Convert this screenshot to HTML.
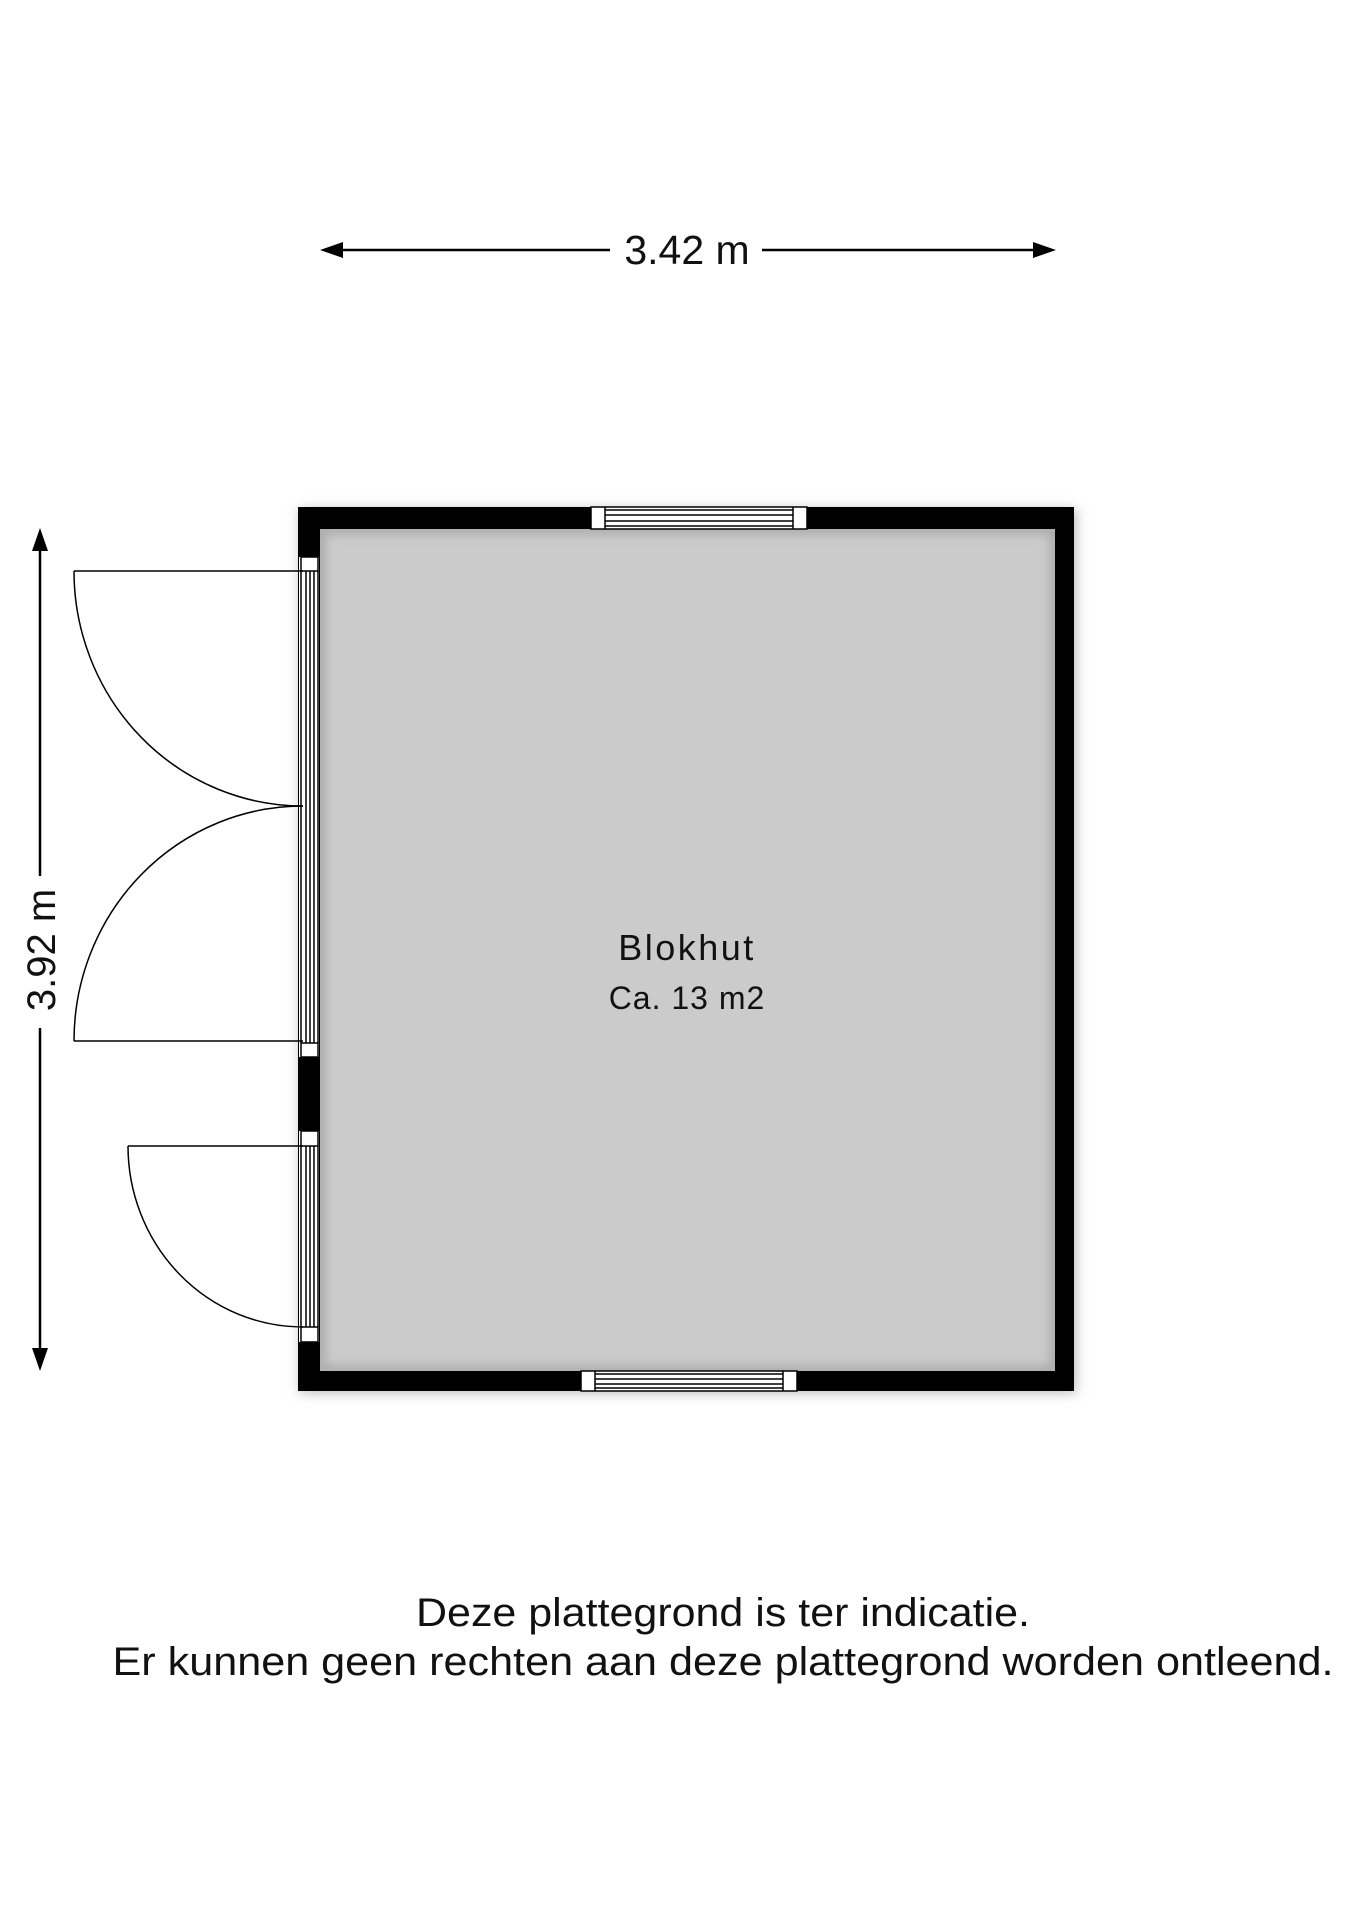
<!DOCTYPE html>
<html><head><meta charset="utf-8"><style>
html,body{margin:0;padding:0;background:#fff;}
svg{display:block;}
text{font-family:"Liberation Sans",Arial,sans-serif;fill:#111;}
</style></head><body>
<svg width="1358" height="1920" viewBox="0 0 1358 1920" xmlns="http://www.w3.org/2000/svg">
<defs>
<filter id="sh" x="-5%" y="-5%" width="110%" height="110%"><feGaussianBlur stdDeviation="6"/></filter>
<filter id="ib" x="-5%" y="-5%" width="110%" height="110%"><feGaussianBlur stdDeviation="5"/></filter>
<clipPath id="room"><rect x="320" y="529" width="735" height="842"/></clipPath>
</defs>
<!-- horizontal dimension -->
<line x1="330" y1="250" x2="610" y2="250" stroke="#000" stroke-width="2.5"/>
<line x1="762" y1="250" x2="1045" y2="250" stroke="#000" stroke-width="2.5"/>
<polygon points="320,250 343,242 343,258" fill="#000"/>
<polygon points="1056,250 1033,242 1033,258" fill="#000"/>
<text x="687" y="264" font-size="41" text-anchor="middle">3.42 m</text>
<!-- vertical dimension -->
<line x1="40" y1="540" x2="40" y2="876" stroke="#000" stroke-width="2.5"/>
<line x1="40" y1="1028" x2="40" y2="1360" stroke="#000" stroke-width="2.5"/>
<polygon points="40,528 32,551 48,551" fill="#000"/>
<polygon points="40,1371 32,1348 48,1348" fill="#000"/>
<text x="0" y="0" font-size="40" text-anchor="middle" transform="translate(55,950) rotate(-90)">3.92 m</text>
<!-- shadow -->
<rect x="300" y="509" width="776" height="884" fill="#bbb" filter="url(#sh)"/>
<!-- walls -->
<rect x="298" y="507" width="776" height="884" fill="#000"/>
<rect x="320" y="529" width="735" height="842" fill="#cbcbcb"/>
<g clip-path="url(#room)"><rect x="320" y="529" width="735" height="842" fill="none" stroke="#a8a8a8" stroke-width="10" filter="url(#ib)"/></g>
<!-- top window -->
<g stroke="#000" stroke-width="1.5">
<rect x="591" y="507" width="216" height="22" fill="#fff"/>
<line x1="605" y1="507" x2="605" y2="529"/><line x1="793" y1="507" x2="793" y2="529"/>
<line x1="605" y1="510" x2="793" y2="510"/><line x1="605" y1="515" x2="793" y2="515"/>
<line x1="605" y1="521" x2="793" y2="521"/><line x1="605" y1="526" x2="793" y2="526"/>
</g>
<!-- bottom window -->
<g stroke="#000" stroke-width="1.5">
<rect x="581" y="1371" width="216" height="20" fill="#fff"/>
<line x1="595" y1="1371" x2="595" y2="1391"/><line x1="783" y1="1371" x2="783" y2="1391"/>
<line x1="595" y1="1374" x2="783" y2="1374"/><line x1="595" y1="1379" x2="783" y2="1379"/>
<line x1="595" y1="1384" x2="783" y2="1384"/><line x1="595" y1="1388" x2="783" y2="1388"/>
</g>
<!-- left wall openings -->
<g stroke="#000" stroke-width="1.5" fill="#fff">
<rect x="299" y="557" width="20" height="500" stroke="none"/>
<rect x="299" y="1131" width="20" height="211" stroke="none"/>
<rect x="301" y="557" width="17" height="14"/>
<rect x="301" y="1043" width="17" height="14"/>
<rect x="301" y="1131" width="17" height="15"/>
<rect x="301" y="1327" width="17" height="15"/>
<g fill="none">
<line x1="301" y1="571" x2="301" y2="1043"/><line x1="306" y1="571" x2="306" y2="1043"/>
<line x1="310" y1="571" x2="310" y2="1043"/><line x1="314" y1="571" x2="314" y2="1043"/>
<line x1="318" y1="571" x2="318" y2="1043"/>
<line x1="301" y1="1146" x2="301" y2="1327"/><line x1="306" y1="1146" x2="306" y2="1327"/>
<line x1="310" y1="1146" x2="310" y2="1327"/><line x1="314" y1="1146" x2="314" y2="1327"/>
<line x1="318" y1="1146" x2="318" y2="1327"/>
</g>
</g>
<rect x="298" y="1057" width="22" height="74" fill="#000"/>
<!-- doors -->
<g stroke="#000" stroke-width="1.5" fill="none">
<line x1="74" y1="571" x2="303" y2="571"/>
<path d="M74,571 A229,235 0 0 0 303,806"/>
<line x1="74" y1="1041" x2="303" y2="1041"/>
<path d="M74,1041 A229,235 0 0 1 303,806"/>
<line x1="128" y1="1146" x2="303" y2="1146"/>
<path d="M128,1146 A175,181 0 0 0 303,1327"/>
</g>
<!-- labels -->
<text x="687" y="960" font-size="36" text-anchor="middle" letter-spacing="2.5">Blokhut</text>
<text x="687" y="1009" font-size="32" text-anchor="middle" letter-spacing="1">Ca. 13 m2</text>
<text x="723" y="1626" font-size="40" text-anchor="middle" textLength="614" lengthAdjust="spacingAndGlyphs">Deze plattegrond is ter indicatie.</text>
<text x="723" y="1675" font-size="40" text-anchor="middle" textLength="1221" lengthAdjust="spacingAndGlyphs">Er kunnen geen rechten aan deze plattegrond worden ontleend.</text>
</svg>
</body></html>
